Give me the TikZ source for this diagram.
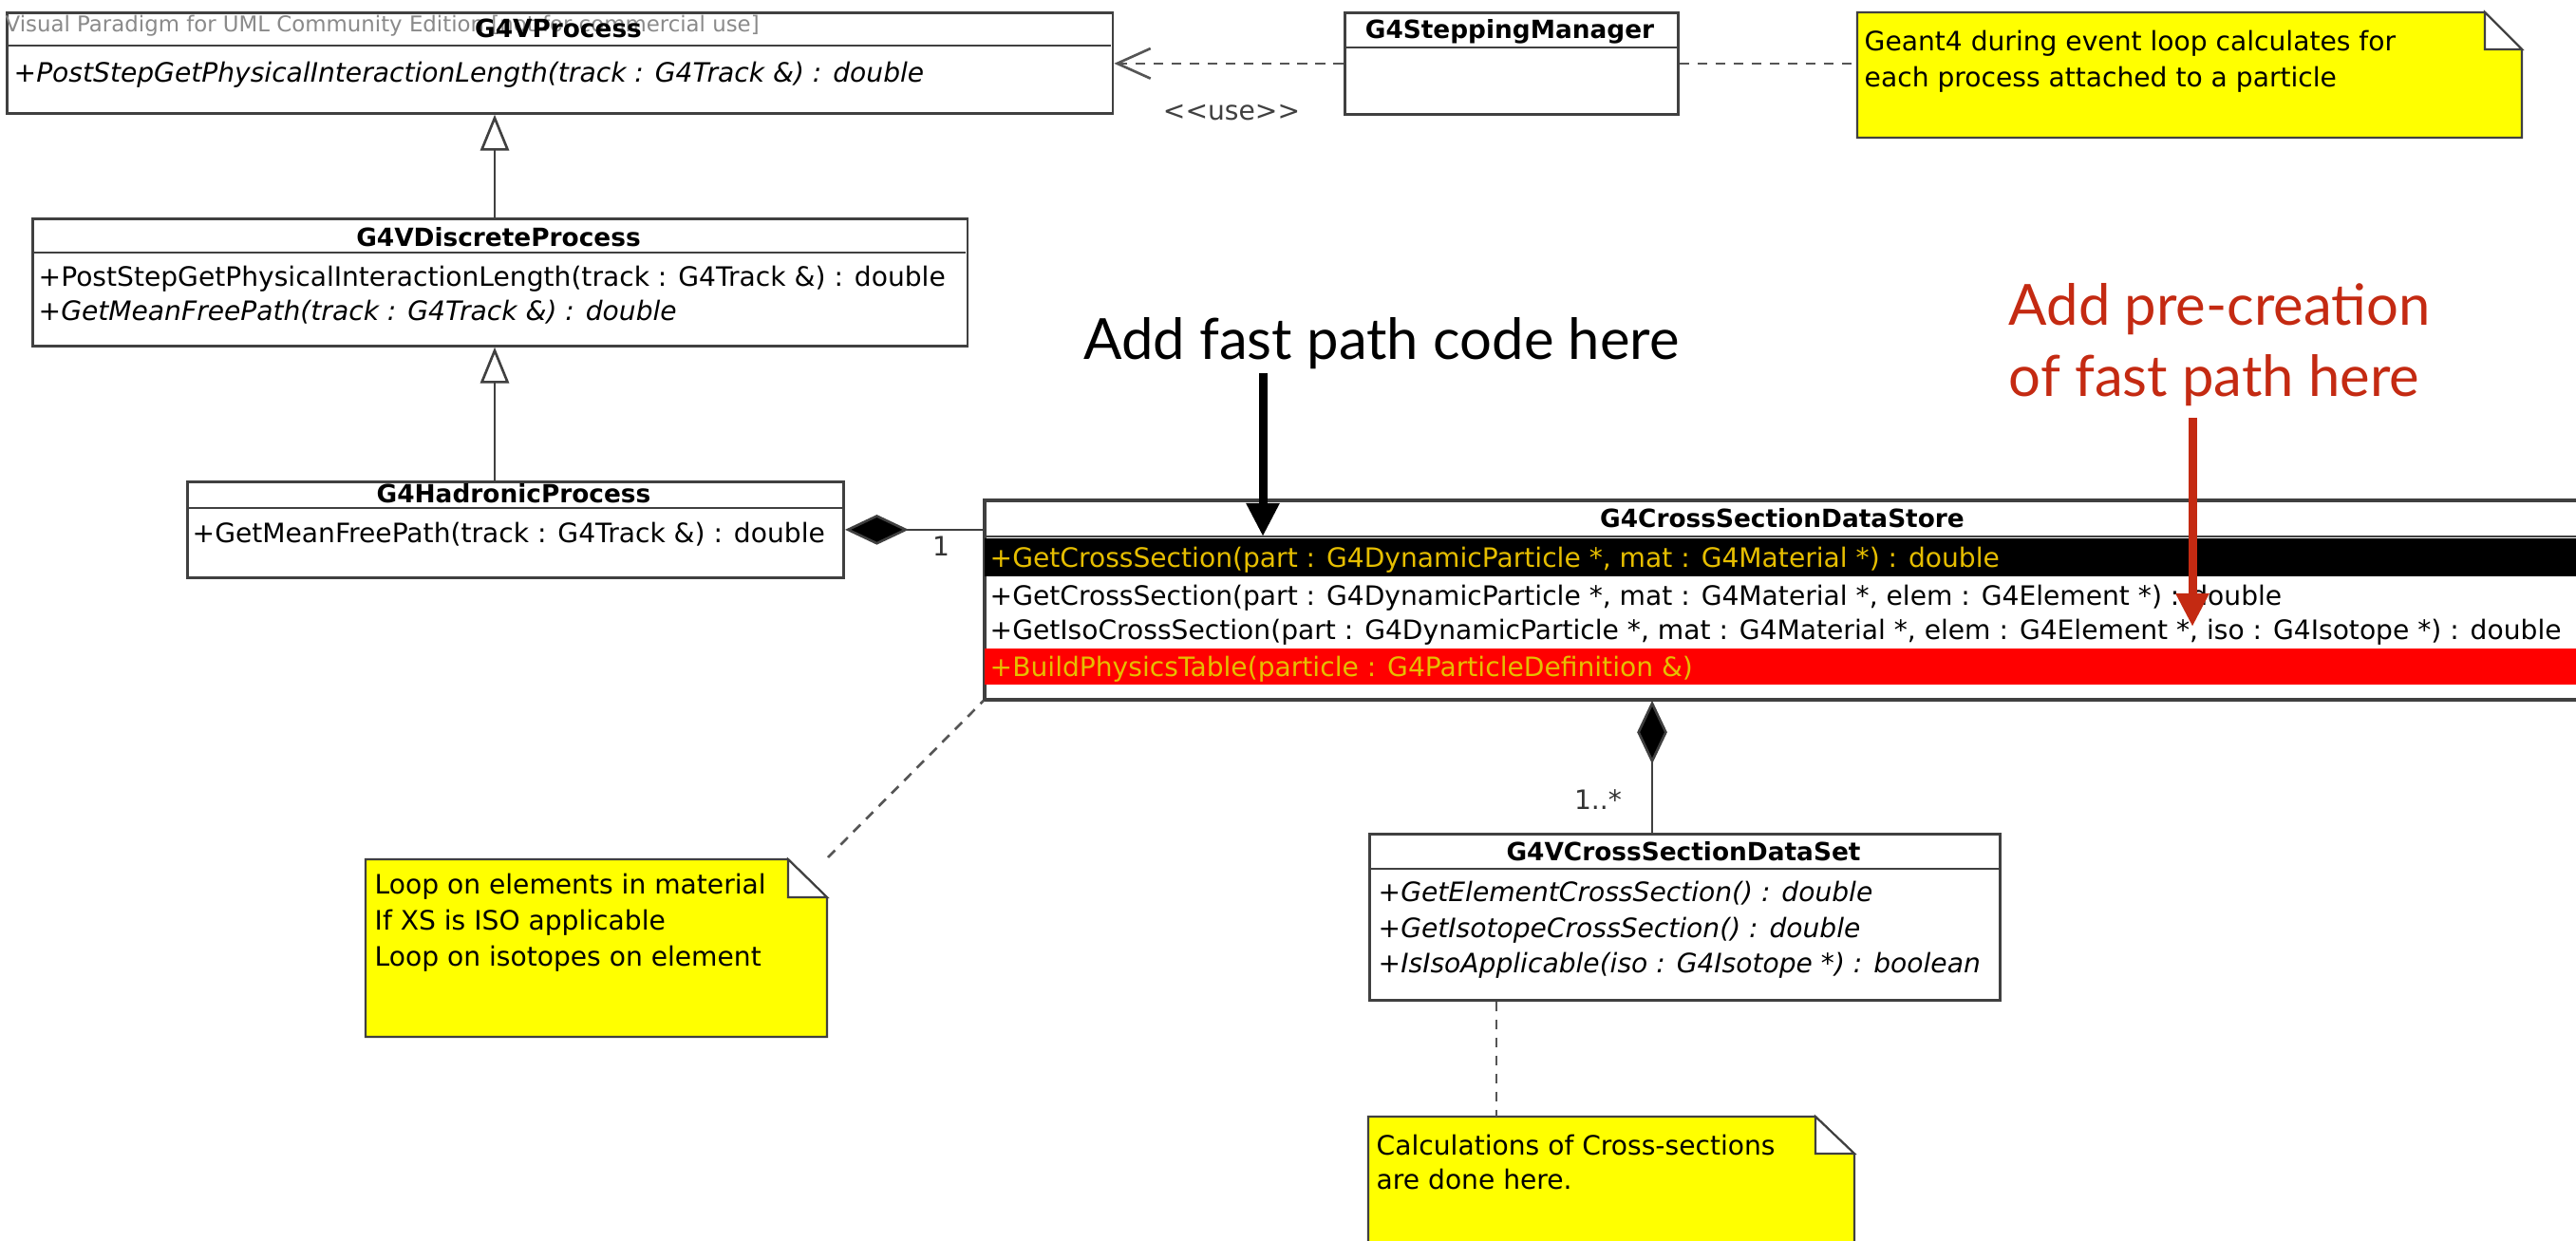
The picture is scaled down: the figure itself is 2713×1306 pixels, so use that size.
\documentclass[tikz,border=0pt]{standalone}
\usepackage{fontspec}
\setmainfont{DejaVu Sans}[ItalicFont={DejaVu Sans Oblique},BoldFont={DejaVu Sans Bold},BoldItalicFont={DejaVu Sans Bold Oblique}]
\newfontfamily\annfont{Lato}
\usetikzlibrary{arrows.meta,calc}

\definecolor{umlline}{HTML}{404040}
\definecolor{dashgray}{HTML}{555555}
\definecolor{wmgray}{HTML}{8A8A8A}
\definecolor{goldtxt}{HTML}{E6BE00}
\definecolor{noteyellow}{HTML}{FFFF00}
\definecolor{rowred}{HTML}{FF0000}
\definecolor{annred}{HTML}{C42A12}

\tikzset{
  umlbox/.style={draw=umlline, line width=0.75pt, fill=white, inner sep=0pt, anchor=north west},
  sepline/.style={draw=umlline, line width=0.75pt},
  ttl/.style={font=\fontsize{7.5}{9}\selectfont\bfseries, inner sep=0pt, anchor=base},
  op/.style={font=\fontsize{8}{9}\selectfont, inner sep=0pt, anchor=base west},
  opi/.style={op, font=\fontsize{8}{9}\selectfont\itshape},
  wmark/.style={font=\fontsize{6.5}{7.5}\selectfont, text=wmgray, inner sep=0pt, anchor=base west},
  notebody/.style={draw=umlline, line width=0.6pt, fill=noteyellow},
  notefold/.style={draw=umlline, line width=0.6pt, fill=white, line join=miter},
  dashlink/.style={draw=dashgray, line width=0.75pt, dash pattern=on 3pt off 2.4pt},
  gen/.style={-{Triangle[open, length=10.8pt, width=8.6pt, fill=white]}, draw=umlline, line width=0.75pt},
  comp/.style={{Diamond[length=19pt, width=9pt, fill=black]}-, draw=umlline, line width=0.75pt},
  dep/.style={dashlink, -{Straight Barb[length=10pt, width=9pt]}},
  mult/.style={font=\fontsize{8}{9}\selectfont, text=black!80, inner sep=0pt, anchor=base},
  annblack/.style={font=\annfont\fontsize{17}{20}\selectfont, inner sep=0pt, anchor=base},
  annredtxt/.style={font=\annfont\fontsize{17}{20}\selectfont, text=annred, inner sep=0pt, anchor=base west},
  annarrow/.style={line width=2.56pt, -{Triangle[length=10pt, width=9.4pt]}},
}

\begin{document}
\begin{tikzpicture}[x=0.01cm, y=-0.01cm]
\useasboundingbox (0,0) rectangle (2713,1306);
\fill[white] (0,0) rectangle (2713,1306);
\clip (0,0) rectangle (2713,1306);

% ---------- G4VProcess ----------
\node[umlbox, minimum width=11.64cm, minimum height=1.06cm] (proc) at (6,12) {};
\draw[sepline] (6,48) -- (1170,48);
\node[wmark] (wm) at (5,33) {Visual Paradigm for UML Community Edition [not for commercial use]};
\node[ttl] (procT) at (588,39) {G4VProcess};
\node[opi] (procM) at (14,87) {+PostStepGetPhysicalInteractionLength(track : G4Track \&) : double};

% ---------- G4SteppingManager ----------
\node[umlbox, minimum width=3.51cm, minimum height=1.07cm] (step) at (1415,12) {};
\draw[sepline] (1415,50) -- (1766,50);
\node[ttl] (stepT) at (1590,40) {G4SteppingManager};

% ---------- note: event loop ----------
\coordinate (ngNW) at (1956,13);
\coordinate (ngF) at (2617,13);
\coordinate (ngFB) at (2617,52);
\coordinate (ngE) at (2656,52);
\coordinate (ngSE) at (2656,145);
\coordinate (ngSW) at (1956,145);
\draw[notebody] (ngNW) -- (ngF) -- (ngE) -- (ngSE) -- (ngSW) -- cycle;
\draw[notefold] (ngF) -- (ngFB) -- (ngE) -- cycle;
\node[op] (ng1) at (1963,54) {Geant4 during event loop calculates for};
\node[op] (ng2) at (1963,91) {each process attached to a particle};

% ---------- G4VDiscreteProcess ----------
\node[umlbox, minimum width=9.84cm, minimum height=1.34cm] (disc) at (33,229) {};
\draw[sepline] (33,266) -- (1017,266);
\node[ttl] (discT) at (525,259) {G4VDiscreteProcess};
\node[op] (discM1) at (40,301) {+PostStepGetPhysicalInteractionLength(track : G4Track \&) : double};
\node[opi] (discM2) at (40,337) {+GetMeanFreePath(track : G4Track \&) : double};

% ---------- G4HadronicProcess ----------
\node[umlbox, minimum width=6.91cm, minimum height=1.01cm] (hadr) at (196,506) {};
\draw[sepline] (196,535) -- (887,535);
\node[ttl] (hadrT) at (541,529) {G4HadronicProcess};
\node[op] (hadrM) at (202,571) {+GetMeanFreePath(track : G4Track \&) : double};

% ---------- G4CrossSectionDataStore ----------
\node[umlbox, minimum width=16.84cm, minimum height=2.09cm] (store) at (1036,526) {};
\fill[black] (1037,567) rectangle (2720,607);
\fill[rowred] (1037,683) rectangle (2720,721);
\draw[sepline] (1036,565) -- (2720,565);
\draw[umlline, line width=0.75pt] (store.north west) rectangle (store.south east);
\node[ttl] (storeT) at (1877,555) {G4CrossSectionDataStore};
\node[op, text=goldtxt] (storeM1) at (1042,597) {+GetCrossSection(part : G4DynamicParticle *, mat : G4Material *) : double};
\node[op] (storeM2) at (1042,637) {+GetCrossSection(part : G4DynamicParticle *, mat : G4Material *, elem : G4Element *) : double};
\node[op] (storeM3) at (1042,673) {+GetIsoCrossSection(part : G4DynamicParticle *, mat : G4Material *, elem : G4Element *, iso : G4Isotope *) : double};
\node[op, text=goldtxt] (storeM4) at (1042,712) {+BuildPhysicsTable(particle : G4ParticleDefinition \&)};

% ---------- G4VCrossSectionDataSet ----------
\node[umlbox, minimum width=6.64cm, minimum height=1.75cm] (dset) at (1441,877) {};
\draw[sepline] (1441,915) -- (2105,915);
\node[ttl] (dsetT) at (1773,906) {G4VCrossSectionDataSet};
\node[opi] (dsetM1) at (1451,949) {+GetElementCrossSection() : double};
\node[opi] (dsetM2) at (1451,987) {+GetIsotopeCrossSection() : double};
\node[opi] (dsetM3) at (1451,1024) {+IsIsoApplicable(iso : G4Isotope *) : boolean};

% ---------- note: element loop ----------
\coordinate (nlNW) at (385,905);
\coordinate (nlF) at (830,905);
\coordinate (nlFB) at (830,945);
\coordinate (nlE) at (871,945);
\coordinate (nlSE) at (871,1092);
\coordinate (nlSW) at (385,1092);
\coordinate (nlLink) at (872,903);
\draw[notebody] (nlNW) -- (nlF) -- (nlE) -- (nlSE) -- (nlSW) -- cycle;
\draw[notefold] (nlF) -- (nlFB) -- (nlE) -- cycle;
\node[op] (nl1) at (394,941) {Loop on elements in material};
\node[op] (nl2) at (394,979) {If XS is ISO applicable};
\node[op] (nl3) at (394,1017) {Loop on isotopes on element};

% ---------- note: cross-section calculation ----------
\coordinate (ncNW) at (1441,1176);
\coordinate (ncF) at (1912,1176);
\coordinate (ncFB) at (1912,1215);
\coordinate (ncE) at (1953,1215);
\coordinate (ncSE) at (1953,1340);
\coordinate (ncSW) at (1441,1340);
\coordinate (ncLink) at (1576,1176);
\draw[notebody] (ncNW) -- (ncF) -- (ncE) -- (ncSE) -- (ncSW) -- cycle;
\draw[notefold] (ncF) -- (ncFB) -- (ncE) -- cycle;
\node[op] (nc1) at (1449,1216) {Calculations of Cross-sections};
\node[op] (nc2) at (1449,1252) {are done here.};

% ---------- relations ----------
\coordinate (genX) at (521,0);
\draw[gen] (disc.north -| genX) -- (proc.south -| genX);
\draw[gen] (hadr.north -| genX) -- (disc.south -| genX);

\draw[comp] (hadr.east) -- (hadr.east -| store.west);
\node[mult] (m1) at (991,585) {1};

\coordinate (dsetTop) at (1740,877);
\draw[comp] (dsetTop |- store.south) -- (dsetTop);
\node[mult] (m2) at (1683,852) {1..*};

\draw[dep] (step.west) -- (step.west -| proc.east);
\node[mult, text=black!75] (use) at (1297,126) {<\kern0pt<use>\kern0pt>};

\draw[dashlink] (step.east) -- (step.east -| ngNW);
\draw[dashlink] (nlLink) -- (store.south west);
\draw[dashlink] (ncLink |- dset.south) -- (ncLink);

% ---------- annotations ----------
\node[annblack] (annA) at (1455,378) {Add fast path code here};
\coordinate (aTip) at (1330,565);
\draw[annarrow, black] ($(annA.south -| aTip)+(0,4)$) -- (aTip);

\node[annredtxt] (annB1) at (2115,342) {Add pre-creation};
\node[annredtxt] (annB2) at (2115,417) {of fast path here};
\coordinate (bTip) at (2309,660);
\draw[annarrow, annred] ($(annB2.south -| bTip)+(0,12)$) -- (bTip);
\end{tikzpicture}
\end{document}
